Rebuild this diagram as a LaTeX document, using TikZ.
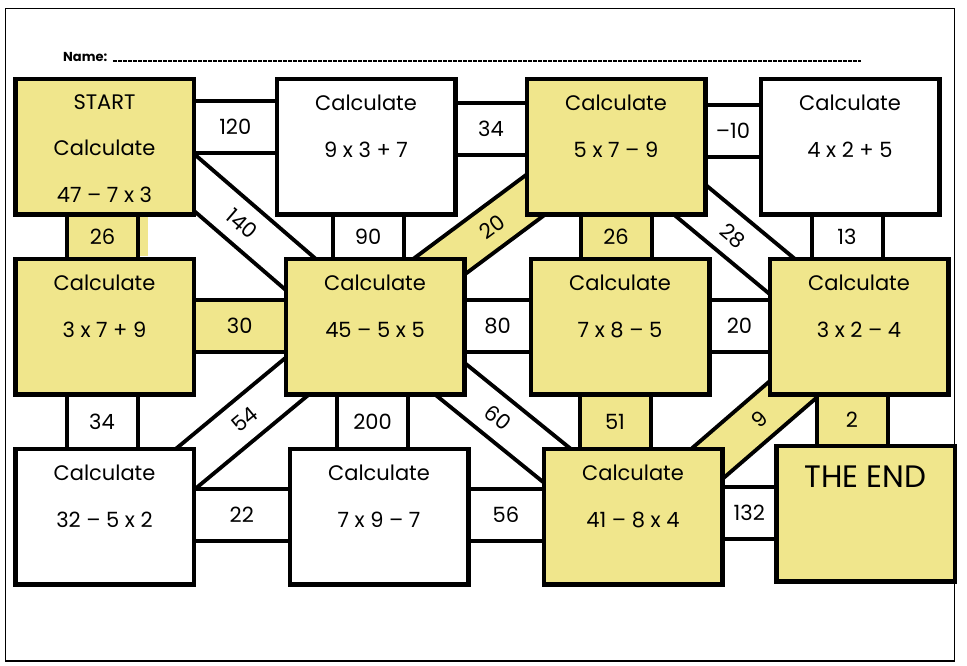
\documentclass[tikz,border=0pt]{standalone}
\usepackage{fontspec}
\setmainfont{Poppins}
\usetikzlibrary{backgrounds}
\definecolor{mazeyellow}{HTML}{F0E68C}
\newcommand\mazefont{\fontsize{21}{46.5}\selectfont}
\begin{document}
\begin{tikzpicture}[x=1pt,y=-1pt]
 \tikzset{
  box/.style={draw,line width=4.5pt,fill=white,minimum width=178.5pt,minimum height=135.5pt,inner sep=0pt},
  ybox/.style={box,fill=mazeyellow},
  boxtext/.style={anchor=north,yshift=-18.5pt,align=center,font=\mazefont,inner sep=0pt},
  link/.style={line width=4pt,double=white,font=\mazefont},
  hlink/.style={link,double distance=48pt},
  vlink/.style={link,double distance=67pt},
  dlink/.style={link,double distance=39pt},
  yellow/.style={double=mazeyellow}}
 \useasboundingbox (0,0) rectangle (967,665);
 \draw[line width=1.2pt] (5.5,8.5) rectangle (954.5,661);
 \node[font=\fontsize{13}{15}\selectfont\bfseries,anchor=base west,inner sep=0pt] (name) at (63,61) {Name:};
 \draw[line width=1.4pt,dash pattern=on 4pt off 1pt] ([xshift=6pt]name.base east) -- ++(748,0);
 \node[ybox,label={[boxtext,yshift=1pt]north:START\\Calculate\\47 – 7 x 3}] (start) at (104.5,146.5) {};
 \node[box,label={[boxtext]north:Calculate\\9 x 3 + 7}] (b) at (366,146.5) {};
 \node[ybox,label={[boxtext]north:Calculate\\5 x 7 – 9}] (c) at (616,146.5) {};
 \node[box,label={[boxtext]north:Calculate\\4 x 2 + 5}] (d) at (850,146.5) {};
 \node[ybox,label={[boxtext]north:Calculate\\3 x 7 + 9}] (e) at (104.5,326.5) {};
 \node[ybox,label={[boxtext]north:Calculate\\45 – 5 x 5}] (f) at (375,326.5) {};
 \node[ybox,label={[boxtext]north:Calculate\\7 x 8 – 5}] (g) at (620,326.5) {};
 \node[ybox,label={[boxtext]north:Calculate\\3 x 2 – 4}] (h) at (859,326.5) {};
 \node[box,label={[boxtext]north:Calculate\\32 – 5 x 2}] (i) at (104.5,516.5) {};
 \node[box,label={[boxtext]north:Calculate\\7 x 9 – 7}] (j) at (379,516.5) {};
 \node[ybox,label={[boxtext]north:Calculate\\41 – 8 x 4}] (k) at (633,516.5) {};
 \node[ybox,label={[boxtext,yshift=-4pt,font=\fontsize{31}{36}\selectfont]north:THE END}] (theend) at (865.5,513.5) {};
 \begin{pgfonlayer}{background}
 \draw[dlink] ([shift={(37.5,-9)}]start.center) -- ([shift={(-33,-16.5)}]f.center) node[midway,sloped]{140};
 \draw[dlink,yellow] ([shift={(27,-32.3)}]f.center) -- ([shift={(-34,13.7)}]c.center) node[midway,sloped]{20};
 \draw[dlink] ([shift={(27,14.4)}]c.center) -- ([shift={(-36,-16.2)}]h.center) node[midway,sloped]{28};
 \draw[dlink] ([shift={(50.5,-22.3)}]i.center) -- ([shift={(-40,18.3)}]f.center) node[midway,sloped]{54};
 \draw[dlink] ([shift={(33,18.3)}]f.center) -- ([shift={(-45,-25.9)}]k.center) node[midway,sloped]{60};
 \draw[dlink,yellow] ([shift={(36,-19.9)}]k.center) -- ([shift={(-10,14.7)}]h.center) node[midway,sloped]{9};
 \draw[hlink] ([yshift=19.5pt]start.center) -- ([yshift=19.5pt]b.center) node[midway]{120};
 \draw[hlink] ([yshift=18pt]b.center) -- ([yshift=18pt]c.center) node[midway]{34};
 \draw[hlink] ([yshift=16pt]c.center) -- ([yshift=16pt]d.center) node[midway]{–10};
 \draw[hlink,yellow] ([yshift=1pt]e.center) -- ([yshift=1pt]f.center) node[midway]{30};
 \draw[hlink] ([yshift=1pt]f.center) -- ([yshift=1pt]g.center) node[midway]{80};
 \draw[hlink] ([yshift=1pt]g.center) -- ([yshift=1pt]h.center) node[midway]{20};
 \draw[hlink] ([yshift=2pt]i.center) -- ([yshift=2pt]j.center) node[midway]{22};
 \draw[hlink] ([yshift=2pt]j.center) -- ([yshift=2pt]k.center) node[midway]{56};
 \draw[hlink] ([yshift=3.5pt]k.center) -- ([yshift=0.5pt]theend.center) node[midway]{132};
 \draw[vlink,yellow] ([xshift=-2pt]start.center) -- ([xshift=-2pt]e.center) node[midway]{26};
 \draw[vlink] ([xshift=2pt]b.center) -- ([xshift=2pt]b.center |- f.center) node[midway]{90};
 \draw[vlink,yellow] (c.center) -- (c.center |- g.center) node[midway]{26};
 \draw[vlink] ([xshift=-3pt]d.center) -- ([xshift=-3pt]d.center |- h.center) node[midway]{13};
 \draw[vlink] ([xshift=-2.5pt]e.center) -- ([xshift=-2.5pt]i.center) node[midway]{34};
 \draw[vlink] ([xshift=-2.5pt]f.center) -- ([xshift=-2.5pt]f.center |- j.center) node[midway]{200};
 \draw[vlink,yellow] ([xshift=-5pt]g.center) -- ([xshift=-5pt]g.center |- k.center) node[midway]{51};
 \draw[vlink,yellow] ([xshift=-7pt]h.center) -- ([xshift=-7pt]h.center |- theend.center) node[midway]{2};
 \fill[mazeyellow] (140,216) rectangle (148,256);
 \end{pgfonlayer}
\end{tikzpicture}
\end{document}
